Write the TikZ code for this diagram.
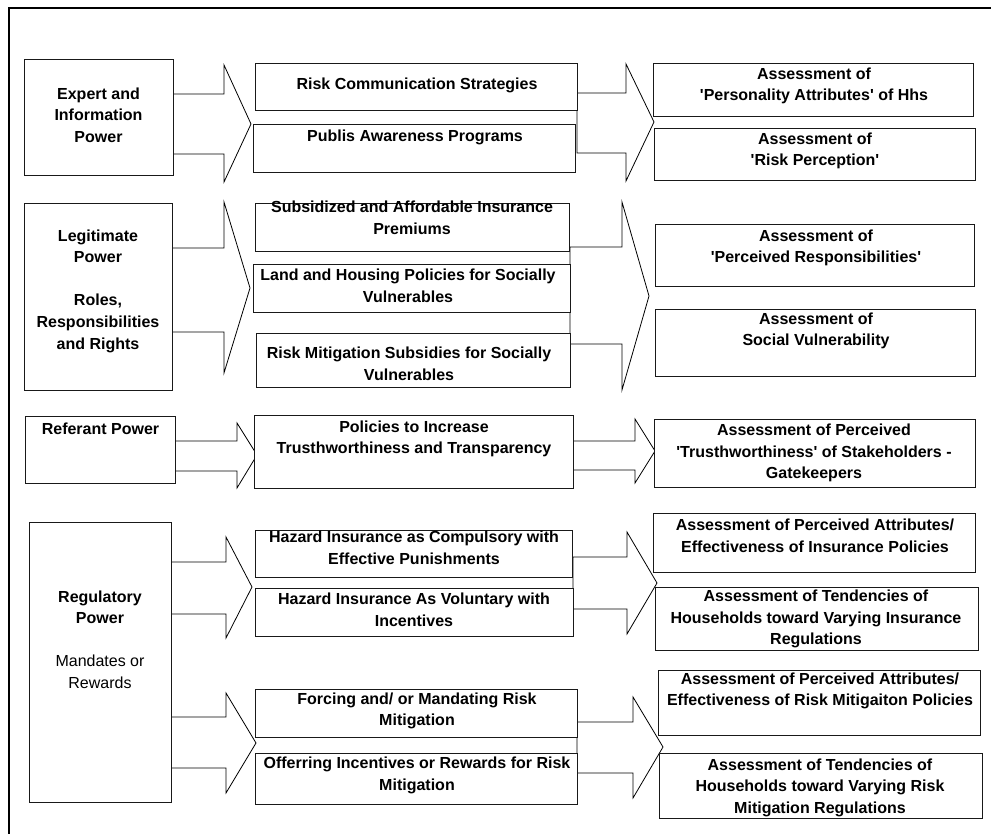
\documentclass[tikz,border=0pt]{standalone}
\usepackage{fontspec}
\setmainfont{Liberation Sans}
\newcommand\sq{\textquotesingle}
% box: name, left, top, right, bottom
\newcommand\bx[5]{\node[box, minimum width={(#4-#2)*1pt}, minimum height={(#5-#3)*1pt}] (#1) at (#2,#3) {};}
% block arrow: name, shaft start x, head base x, tip x, shaft top, shaft bottom, head top, head bottom, tip y
\newcommand\blockarrow[9]{%
  \path (#2,#5) coordinate (#1-s) (#4,#9) coordinate (#1-tip);
  \draw[blk] (#2,#5) -- (#3,#5) -- (#3,#7) -- (#4,#9) -- (#3,#8) -- (#3,#6) -- (#2,#6) -- cycle;}
\begin{document}
\begin{tikzpicture}[x=1pt,y=-1pt,
  box/.style={draw=black!90, line width=1pt, fill=white, rectangle, inner sep=0pt, outer sep=0pt, anchor=north west},
  txt/.style={align=center, inner sep=0pt, font=\fontsize{16}{21.6}\selectfont\bfseries},
  blk/.style={draw=black, line width=0.8pt, fill=white, line join=miter},
]
\useasboundingbox (0,0) rectangle (991,834);
% outer frame (top and left edges)
\draw[line width=2.4pt, line join=miter] (9,834) -- (9,8) -- (991,8);

% ---- block arrows ----
\blockarrow{a1}{173}{224}{251}{94}{154}{65}{182}{124}
\blockarrow{a2}{577}{626}{654}{93}{153}{64}{181}{122}
\blockarrow{a3}{172}{224}{250}{248}{332}{202}{373}{288}
\blockarrow{a4}{570}{622}{649}{247}{344}{202}{390}{296}
\blockarrow{a5}{175}{237}{257}{441}{471}{423}{488}{455}
\blockarrow{a6}{573}{635}{655}{441}{470}{419}{483}{451}
\blockarrow{a7}{171}{226}{252}{562}{614}{537}{638}{587}
\blockarrow{a8}{573}{627}{657}{557}{609}{532}{634}{583}
\blockarrow{a9}{171}{226}{256}{717}{768}{693}{793}{743}
\blockarrow{a10}{577}{633}{663}{722}{773}{697}{798}{747}

% ---- boxes ----
\bx{expert}{24}{60}{173}{176}
\bx{riskcomm}{255}{64}{577}{111}
\bx{publis}{253}{125}{575}{173}
\bx{persattr}{653}{64}{973}{117}
\bx{riskperc}{654}{129}{975}{181}

\bx{legit}{24}{204}{172}{390}
\bx{subsid}{255}{204}{569}{252}
\bx{land}{253}{265}{570}{313}
\bx{mitsub}{256}{334}{570}{387}
\bx{percresp}{655}{225}{974}{287}
\bx{socvul}{655}{310}{975}{377}

\bx{referant}{25}{416}{175}{483}
\bx{trustpol}{254}{415}{573}{488}
\bx{trustass}{654}{419}{975}{487}

\bx{regul}{29}{522}{171}{802}
\bx{compul}{255}{530}{572}{577}
\bx{volun}{255}{588}{573}{636}
\bx{insattr}{653}{513}{975}{572}
\bx{instend}{655}{587}{978}{650}
\bx{forcing}{255}{689}{577}{737}
\bx{offering}{255}{753}{577}{804}
\bx{mitattr}{658}{670}{980}{735}
\bx{mittend}{659}{753}{982}{818}

% ---- texts ----
\node[txt] (expert-t) at (98.5,115) {Expert and\\Information\\Power};
\node[txt] (riskcomm-t) at (417,85) {Risk Communication Strategies};
\node[txt] (publis-t) at (415,137) {Publis Awareness Programs};
\node[txt] (persattr-t) at (814,86) {Assessment of\\\sq Personality Attributes\sq{} of Hhs};
\node[txt] (riskperc-t) at (815,151) {Assessment of\\\sq Risk Perception\sq};

\node[txt] (legit-t) at (98,291) {Legitimate\\Power\\[21.6pt]Roles,\\Responsibilities\\and Rights};
\node[txt] (subsid-t) at (412,217.5) {Subsidized and Affordable Insurance\\Premiums};
\node[txt] (land-t) at (408,286) {Land and Housing Policies for Socially\\Vulnerables};
\node[txt] (mitsub-t) at (409,364) {Risk Mitigation Subsidies for Socially\\Vulnerables};
\node[txt] (percresp-t) at (816,248) {Assessment of\\\sq Perceived Responsibilities\sq};
\node[txt] (socvul-t) at (816,331) {Assessment of\\Social Vulnerability};

\node[txt] (referant-t) at (100.5,429) {Referant Power};
\node[txt] (trustpol-t) at (414,439) {Policies to Increase\\Trusthworthiness and Transparency};
\node[txt] (trustass-t) at (814,453) {Assessment of Perceived\\\sq Trusthworthiness\sq{} of Stakeholders -\\Gatekeepers};

\node[txt] (regul-t) at (100,639.5) {Regulatory\\Power\\[21.6pt]{\mdseries Mandates or}\\{\mdseries Rewards}};
\node[txt] (compul-t) at (414,547.5) {Hazard Insurance as Compulsory with\\Effective Punishments};
\node[txt] (volun-t) at (414,610) {Hazard Insurance As Voluntary with\\Incentives};
\node[txt] (insattr-t) at (815,536) {Assessment of Perceived Attributes/\\Effectiveness of Insurance Policies};
\node[txt] (instend-t) at (816,619) {Assessment of Tendencies of\\Households toward Varying Insurance\\Regulations};
\node[txt] (forcing-t) at (417,711) {Forcing and/ or Mandating Risk\\Mitigation};
\node[txt] (offering-t) at (417,775.5) {Offerring Incentives or Rewards for Risk\\Mitigation};
\node[txt] (mitattr-t) at (820,691) {Assessment of Perceived Attributes/\\Effectiveness of Risk Mitigaiton Policies};
\node[txt] (mittend-t) at (820,787.5) {Assessment of Tendencies of\\Households toward Varying Risk\\Mitigation Regulations};
\end{tikzpicture}
\end{document}
